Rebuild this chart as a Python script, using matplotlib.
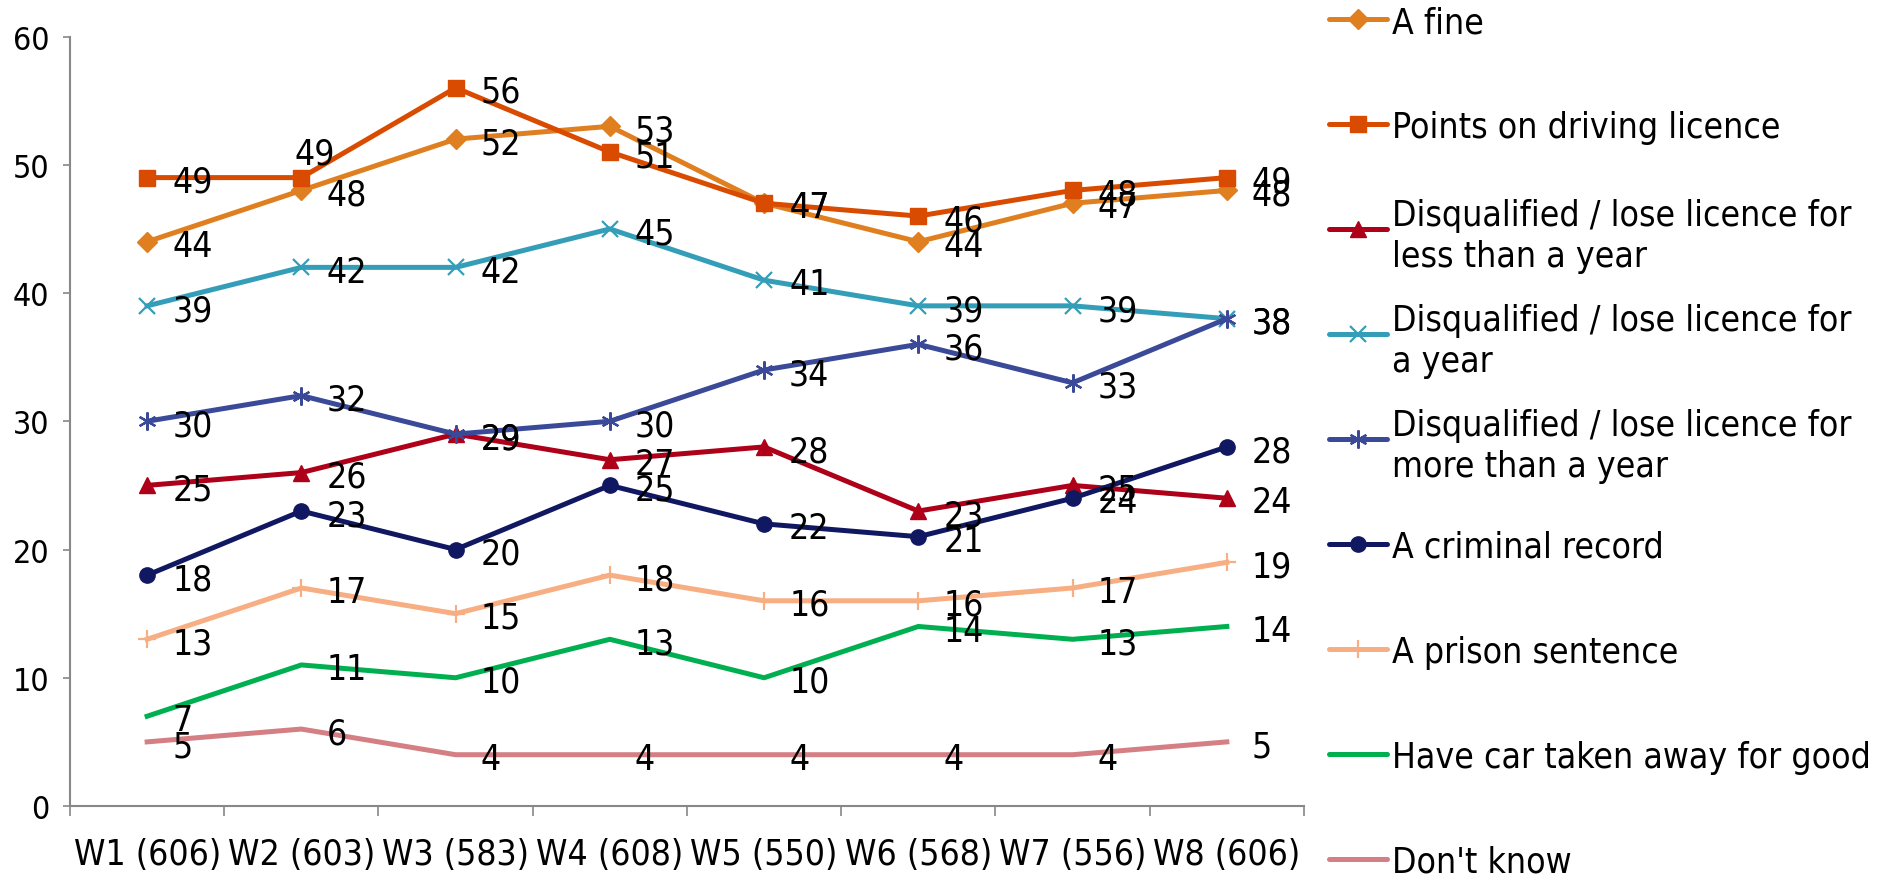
import matplotlib.pyplot as plt
from matplotlib.lines import Line2D
from matplotlib import font_manager

# Survey waves (base sizes in brackets)
waves = ['W1 (606)', 'W2 (603)', 'W3 (583)', 'W4 (608)',
         'W5 (550)', 'W6 (568)', 'W7 (556)', 'W8 (606)']

# Percentages per wave
a_fine = [44, 48, 52, 53, 47, 44, 47, 48]
points_on_licence = [49, 49, 56, 51, 47, 46, 48, 49]
disq_less_year = [25, 26, 29, 27, 28, 23, 25, 24]
disq_year = [39, 42, 42, 45, 41, 39, 39, 38]
disq_more_year = [30, 32, 29, 30, 34, 36, 33, 38]
criminal_record = [18, 23, 20, 25, 22, 21, 24, 28]
prison_sentence = [13, 17, 15, 18, 16, 16, 17, 19]
car_taken_away = [7, 11, 10, 13, 10, 14, 13, 14]
dont_know = [5, 6, 4, 4, 4, 4, 4, 5]

labels = ['A fine',
          'Points on driving licence',
          'Disqualified / lose licence for\nless than a year',
          'Disqualified / lose licence for\na year',
          'Disqualified / lose licence for\nmore than a year',
          'A criminal record',
          'A prison sentence',
          'Have car taken away for good',
          "Don't know"]
values = [a_fine, points_on_licence, disq_less_year, disq_year, disq_more_year,
          criminal_record, prison_sentence, car_taken_away, dont_know]

# colour, marker, marker size, marker edge width
styles = [('#DF7F1F', 'D', 10.5, 1),
          ('#D84B00', 's', 11, 1),
          ('#AE0019', '^', 12, 1),
          ('#349EB8', 'x', 11, 1.6),
          ('#3B4A98', (6, 2, 0), 13, 1.6),
          ('#111862', 'o', 11, 1),
          ('#F6AE82', '+', 13, 1.6),
          ('#00B050', None, 0, 0),
          ('#D47F83', None, 0, 0)]

# a few value labels that sit somewhere other than right of the point (points)
label_nudge = {(1, 1): (-5, 17)}

# narrow, tall lettering: use DejaVu Sans Condensed when it is installed
have_condensed = any(f.name == 'DejaVu Sans' and f.stretch == 'condensed'
                     for f in font_manager.fontManager.ttflist)
if have_condensed:
    plt.rcParams['font.stretch'] = 'condensed'
    fs_big, fs_tick = 25.5, 23
else:
    fs_big, fs_tick = 23, 21

fig = plt.figure(figsize=(18.77, 8.79), dpi=100)
ax = fig.add_axes([0.0373, 0.0819, 0.6574, 0.8754])

x = [i + 0.5 for i in range(len(waves))]
for s, (vals, (color, marker, ms, mew)) in enumerate(zip(values, styles)):
    ax.plot(x, vals, color=color, lw=3.6, marker=marker, ms=ms, mew=mew,
            mec=color, mfc=color, solid_joinstyle='round', zorder=3 + s * 0.01)
    for i, v in enumerate(vals):
        dx, dy = label_nudge.get((s, i), (18, -3))
        ax.annotate(str(v), (x[i], v), xytext=(dx, dy), textcoords='offset points',
                    ha='left', va='center', fontsize=fs_big, color='black', zorder=5)

ax.set_xlim(0, len(waves))
ax.set_ylim(0, 60)
ax.set_yticks(range(0, 61, 10))
ax.set_xticks(range(len(waves) + 1))
ax.set_xticklabels([])
ax.set_xticks(x, minor=True)
ax.set_xticklabels(waves, minor=True, fontsize=fs_big)
ax.tick_params(axis='x', which='major', direction='out', length=7, width=1.2, color='#888888')
ax.tick_params(axis='x', which='minor', length=0, pad=22)
ax.tick_params(axis='y', direction='out', length=5, width=1.2, color='#888888',
               labelsize=fs_tick, pad=10)
for side in ['top', 'right']:
    ax.spines[side].set_visible(False)
for side in ['left', 'bottom']:
    ax.spines[side].set_color('#888888')
    ax.spines[side].set_linewidth(1.5)

# legend drawn on the right, one evenly spaced slot per series
W, H = 1877, 879
for i, (lab, (color, marker, ms, mew)) in enumerate(zip(labels, styles)):
    y = 1 - (19.5 + i * 105.0) / H
    fig.add_artist(Line2D([1329 / W, 1387 / W], [y, y], transform=fig.transFigure,
                          color=color, lw=3.6, solid_capstyle='round'))
    if marker is not None:
        fig.add_artist(Line2D([1358 / W], [y], transform=fig.transFigure, color=color,
                              marker=marker, ms=ms, mew=mew, mec=color, mfc=color))
    fig.text(1392 / W, y, lab, fontsize=fs_big, va='center_baseline', ha='left',
             linespacing=1.25)

fig.savefig('out.png', dpi=100)
